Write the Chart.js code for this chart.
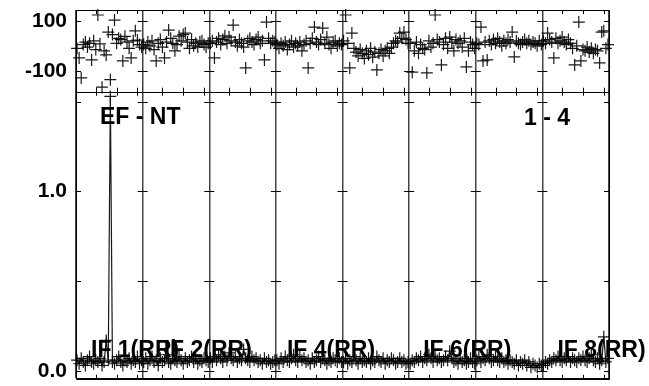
<!DOCTYPE html>
<html>
<head>
<meta charset="utf-8">
<script src="https://cdn.jsdelivr.net/npm/chart.js@4.4.1/dist/chart.umd.min.js"></script>
<style>
  html, body { margin: 0; padding: 0; background: #fff; }
  #wrap { width: 649px; height: 386px; }
</style>
</head>
<body>
<div id="wrap"><canvas id="possm" width="649" height="386"></canvas></div>
<script>
// POSSM style spectrum: 8 IFs x 32 channels, phase (top) and amplitude (bottom)
const nChan = 32;
const ifLabels = ['IF 1(RR)', 'IF 2(RR)', '', 'IF 4(RR)', '', 'IF 6(RR)', '', 'IF 8(RR)'];
const baselineLabel = 'EF - NT';
const timeLabel = '1 - 4';

// phase in degrees, per IF
const phaseIF1 = [-10, -48, -128, 5, 15, -5, 10, -56, 20, -15, 123, 8, -165, -20, -36, 55, -135, 45, 103, 10, 30, 25, -60, 38, 15, -10, -48, 20, 60, 23, 5, -5];
const phaseIF2 = [5, -10, 15, 0, 20, -15, -60, 10, 25, -5, -48, 15, 63, 30, 10, -20, 5, 39, 20, 45, 51, 15, -10, 25, 0, 10, -5, 15, 20, 5, -5, 10];
const phaseIF3 = [10, 20, -48, 15, 30, 5, 25, 40, 10, 35, 20, 83, 15, 0, 25, 10, -5, -88, 20, 30, 15, 5, 25, 35, 10, 20, -56, 95, 30, 10, 20, 15];
const phaseIF4 = [5, -10, 10, 0, 15, -15, 5, 20, -5, 10, 0, 15, -20, 5, 20, -88, 10, 30, 75, 15, 5, 25, 71, 10, 35, 5, -10, 15, 20, 0, 10, 5];
const phaseIF5 = [20, 123, 10, -88, 51, -10, -25, -40, -15, -30, -50, -20, -35, -10, -45, -25, -96, -30, -15, -40, -20, -10, -30, -5, 10, 20, 15, 51, 30, 55, 25, 10];
const phaseIF6 = [10, -105, -20, 15, -30, 5, -10, -15, -108, 20, -5, 10, 123, 25, 15, -76, 5, 30, -10, 35, 15, -20, 25, 10, 20, -5, 30, -84, -20, 15, 5, -10];
const phaseIF7 = [10, 5, 75, -60, 15, -56, 20, 5, 25, 10, 30, 15, 0, 20, 10, 25, 15, 55, -44, 20, 10, 5, 15, 25, 10, 20, 5, 15, 10, 0, 20, 5];
const phaseIF8 = [20, 10, 51, 25, 15, -48, 30, 10, 20, 35, 15, 5, 25, 10, -10, -76, 0, 95, -60, -15, -20, -5, -25, -10, -30, -15, -20, -68, 55, 60, -10, 5];

// amplitude, per IF
const ampIF1 = [0.06, 0.04, 0.07, 0.05, 0.03, 0.06, 0.08, 0.05, 0.04, 0.06, 0.05, 0.07, 0.03, 0.05, 0.17, 0.06, 1.53, 0.05, 0.04, 0.06, 0.08, 0.05, 0.03, 0.06, 0.05, 0.07, 0.04, 0.06, 0.05, 0.08, 0.04, 0.06];
const ampIF2 = [0.05, 0.07, 0.04, 0.06, 0.08, 0.05, 0.06, 0.03, 0.07, 0.05, 0.06, 0.09, 0.05, 0.04, 0.07, 0.06, 0.05, 0.08, 0.06, 0.04, 0.07, 0.05, 0.06, 0.08, 0.05, 0.07, 0.04, 0.06, 0.05, 0.07, 0.06, 0.05];
const ampIF3 = [0.07, 0.05, 0.08, 0.06, 0.09, 0.07, 0.05, 0.08, 0.06, 0.10, 0.07, 0.06, 0.08, 0.05, 0.07, 0.06, 0.12, 0.07, 0.06, 0.05, 0.08, 0.06, 0.07, 0.05, 0.06, 0.04, 0.07, 0.05, 0.06, 0.04, 0.05, 0.06];
const ampIF4 = [0.06, 0.04, 0.07, 0.05, 0.08, 0.06, 0.05, 0.07, 0.09, 0.06, 0.05, 0.08, 0.06, 0.07, 0.05, 0.06, 0.04, 0.07, 0.05, 0.06, 0.08, 0.05, 0.07, 0.06, 0.04, 0.06, 0.05, 0.07, 0.06, 0.05, 0.07, 0.05];
const ampIF5 = [0.05, 0.07, 0.04, 0.06, 0.05, 0.08, 0.06, 0.04, 0.07, 0.05, 0.06, 0.05, 0.07, 0.04, 0.06, 0.05, 0.08, 0.06, 0.05, 0.07, 0.04, 0.06, 0.05, 0.07, 0.06, 0.04, 0.05, 0.07, 0.05, 0.06, 0.04, 0.05];
const ampIF6 = [0.04, 0.06, 0.05, 0.07, 0.06, 0.08, 0.05, 0.07, 0.06, 0.09, 0.07, 0.05, 0.08, 0.06, 0.07, 0.05, 0.06, 0.08, 0.06, 0.11, 0.07, 0.05, 0.06, 0.04, 0.07, 0.05, 0.06, 0.04, 0.05, 0.07, 0.05, 0.04];
const ampIF7 = [0.06, 0.08, 0.05, 0.07, 0.06, 0.09, 0.07, 0.05, 0.06, 0.08, 0.06, 0.05, 0.07, 0.05, 0.06, 0.04, 0.06, 0.05, 0.04, 0.06, 0.03, 0.05, 0.04, 0.06, 0.03, 0.05, 0.02, 0.04, 0.03, 0.02, 0.04, 0.03];
const ampIF8 = [0.03, 0.05, 0.04, 0.06, 0.05, 0.07, 0.06, 0.08, 0.06, 0.05, 0.07, 0.06, 0.08, 0.05, 0.07, 0.06, 0.05, 0.07, 0.06, 0.08, 0.06, 0.05, 0.07, 0.09, 0.06, 0.05, 0.07, 0.04, 0.06, 0.19, 0.05, 0.07];

const phases = [phaseIF1, phaseIF2, phaseIF3, phaseIF4, phaseIF5, phaseIF6, phaseIF7, phaseIF8];
const amps = [ampIF1, ampIF2, ampIF3, ampIF4, ampIF5, ampIF6, ampIF7, ampIF8];

const phaseTicks = [-100, 0, 100];
const phaseTickLabels = ['-100', '', '100'];
const ampTicks = [0, 0.5, 1.0, 1.5];
const ampTickLabels = ['0.0', '', '1.0', ''];
const chanTicks = [10, 20, 30];
const phaseMin = -183, phaseMax = 143;
const ampMin = -0.044, ampMax = 1.556;

const nIF = phases.length;
const isEdge = v => Math.abs(((v - 0.5) % nChan)) < 1e-6;
const ink = '#000';
const axisFont = { family: '"Liberation Sans", Arial, sans-serif', size: 21, weight: 'bold' };
const plotFont = 'bold 23px "Liberation Sans", Arial, sans-serif';

const datasets = [];
phases.forEach((ph, i) => {
  datasets.push({
    yAxisID: 'yP',
    showLine: false,
    data: ph.map((v, c) => ({ x: i * nChan + c + 1, y: v })),
    pointStyle: 'cross', pointRadius: 6, borderColor: 'rgba(0,0,0,0.9)', borderWidth: 1.2,
    clip: false
  });
});
amps.forEach((am, i) => {
  datasets.push({
    yAxisID: 'yA',
    showLine: true,
    data: am.map((v, c) => ({ x: i * nChan + c + 1, y: v })),
    pointStyle: 'cross', pointRadius: 6, borderColor: 'rgba(0,0,0,0.9)', borderWidth: 1.2,
    tension: 0, clip: false
  });
});

// frame, inward ticks and in-plot labels
const possmDecor = {
  id: 'possmDecor',
  beforeDatasetsDraw(chart) {
    const { ctx, chartArea: a, scales } = chart;
    const x = scales.x;
    ctx.save();
    ctx.fillStyle = ink;
    ctx.font = plotFont;
    ctx.textBaseline = 'alphabetic';
    const offs = [15, 21, 0, 11, 0, 14, 0, 15];
    ifLabels.forEach((t, i) => {
      if (!t) return;
      const px = x.getPixelForValue(i * nChan + 0.5) + offs[i];
      ctx.fillText(t, px, a.bottom - 22);
    });
    ctx.fillText(baselineLabel, a.left + 24, scales.yA.top + 32);
    ctx.fillText(timeLabel, a.right - 85, scales.yA.top + 33);
    ctx.restore();
  },
  afterDatasetsDraw(chart) {
    const { ctx, chartArea: a, scales } = chart;
    const x = scales.x, yP = scales.yP, yA = scales.yA;
    const mid = yP.bottom;
    ctx.save();
    ctx.strokeStyle = ink;
    ctx.lineWidth = 1;
    ctx.beginPath();
    ctx.rect(Math.round(a.left) + 0.5, Math.round(a.top) + 0.5, Math.round(a.right - a.left), Math.round(a.bottom - a.top));
    ctx.moveTo(a.left, Math.round(mid) + 0.5);
    ctx.lineTo(a.right, Math.round(mid) + 0.5);
    // channel ticks
    for (let i = 0; i < nIF; i++) {
      chanTicks.forEach(c => {
        const px = Math.round(x.getPixelForValue(i * nChan + c)) + 0.5;
        ctx.moveTo(px, a.top); ctx.lineTo(px, a.top + 4);
        ctx.moveTo(px, mid - 4); ctx.lineTo(px, mid + 4);
        ctx.moveTo(px, a.bottom - 4); ctx.lineTo(px, a.bottom);
      });
    }
    // value ticks at each panel edge
    for (let i = 0; i <= nIF; i++) {
      const px = x.getPixelForValue(i * nChan + 0.5);
      const l = i === 0 ? 0 : 5, r = i === nIF ? 0 : 5;
      const marks = [];
      phaseTicks.forEach(v => { if (v !== 0) marks.push(yP.getPixelForValue(v)); });
      ampTicks.forEach(v => marks.push(yA.getPixelForValue(v)));
      marks.forEach(py => {
        const yy = Math.round(py) + 0.5;
        ctx.moveTo(px - l, yy); ctx.lineTo(px + r, yy);
      });
    }
    ctx.stroke();
    ctx.restore();
  }
};

const fixY = s => { s.width = 76; s.paddingTop = 0; s.paddingBottom = 0; };

new Chart(document.getElementById('possm'), {
  type: 'line',
  data: { datasets },
  plugins: [possmDecor],
  options: {
    responsive: false,
    animation: false,
    devicePixelRatio: 1,
    layout: { padding: { top: 10, right: 40, bottom: 6, left: 0 } },
    plugins: { legend: { display: false }, tooltip: { enabled: false } },
    scales: {
      x: {
        type: 'linear',
        min: 0.5, max: nIF * nChan + 0.5,
        afterBuildTicks: s => {
          const t = [];
          for (let i = 0; i <= nIF; i++) t.push({ value: i * nChan + 0.5 });
          s.ticks = t;
        },
        afterFit: s => { s.height = 0; s.paddingLeft = 0; s.paddingRight = 0; },
        ticks: { display: false },
        grid: { color: ctx => ctx.tick && isEdge(ctx.tick.value) ? '#444' : 'rgba(0,0,0,0)', drawTicks: false, lineWidth: 1.5 },
        border: { display: true, color: ink }
      },
      yA: {
        type: 'linear', position: 'left', stack: 'v', stackWeight: 288, weight: 0,
        min: ampMin, max: ampMax,
        afterBuildTicks: s => { s.ticks = ampTicks.map(v => ({ value: v })); },
        afterFit: fixY,
        ticks: { callback: v => ampTickLabels[ampTicks.indexOf(v)] ?? '', font: axisFont, color: ink, padding: 9 },
        grid: { display: false, drawTicks: false },
        border: { display: true, color: ink }
      },
      yP: {
        type: 'linear', position: 'left', stack: 'v', stackWeight: 82, weight: 1,
        min: phaseMin, max: phaseMax,
        afterBuildTicks: s => { s.ticks = phaseTicks.map(v => ({ value: v })); },
        afterFit: fixY,
        ticks: { callback: v => phaseTickLabels[phaseTicks.indexOf(v)] ?? '', font: axisFont, color: ink, padding: 9 },
        grid: { color: ctx => ctx.tick && ctx.tick.value === 0 ? ink : 'rgba(0,0,0,0)', drawTicks: false },
        border: { display: true, color: ink }
      }
    }
  }
});
</script>
</body>
</html>
